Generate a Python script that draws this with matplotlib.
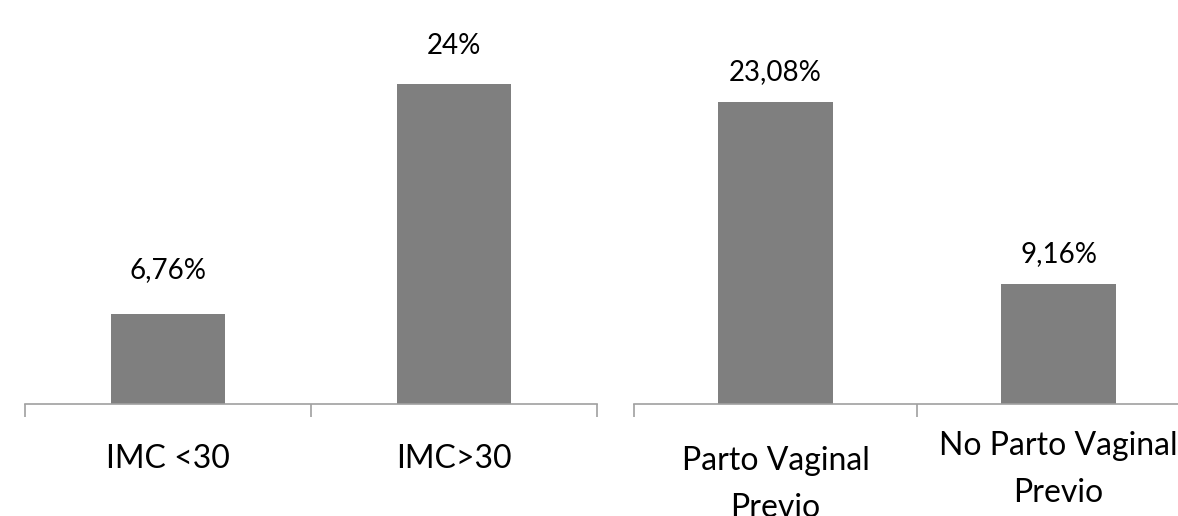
import matplotlib
matplotlib.use('Agg')
import matplotlib.pyplot as plt
import matplotlib.transforms as mtransforms

# left panel: BMI
imc_labels = ['IMC <30', 'IMC>30']
imc_values = [6.76, 24.0]
imc_text = ['6,76%', '24%']

# right panel: previous vaginal delivery
parto_labels = ['Parto Vaginal\nPrevio', 'No Parto Vaginal\nPrevio']
parto_values = [23.08, 9.16]
parto_text = ['23,08%', '9,16%']

plt.rcParams['font.family'] = ['Lato', 'DejaVu Sans']

BAR = '#7f7f7f'
AXIS = '#a0a0a0'
W, H = 1178, 516
DPI = 100


def px_axes(x0, x1, y_top, y_base):
    return [x0 / W, (H - y_base) / H, (x1 - x0) / W, (y_base - y_top) / H]


def draw_panel(ax, labels, values, texts, ymax, width, label_drop, value_gap):
    xs = list(range(len(values)))
    ax.bar(xs, values, width=width, color=BAR, zorder=2)
    ax.set_xlim(-0.5, len(values) - 0.5)
    ax.set_ylim(0, ymax)
    for s in ['top', 'right', 'left']:
        ax.spines[s].set_visible(False)
    ax.spines['bottom'].set_color(AXIS)
    ax.spines['bottom'].set_linewidth(1.2)
    ax.set_yticks([])
    ax.set_xticks([i - 0.5 for i in range(len(values) + 1)])
    ax.set_xticklabels([])
    ax.tick_params(axis='x', direction='out', length=9, width=1.2, color=AXIS)

    trans = mtransforms.blended_transform_factory(ax.transData, ax.transAxes)
    h_px = ax.get_position().height * H
    # label_drop: pixels from the axis line down to the last line's baseline
    for x, lab, d in zip(xs, labels, label_drop):
        ax.text(x, -d / h_px, lab, transform=trans, ha='center', va='baseline',
                fontsize=23, color='black', linespacing=1.72, clip_on=False)
    for x, v, t, g in zip(xs, values, texts, value_gap):
        ax.annotate(t, (x, v), xytext=(0, g * 72 / DPI), textcoords='offset points',
                    ha='center', va='baseline', fontsize=20, color='black')


fig = plt.figure(figsize=(W / DPI, H / DPI), dpi=DPI)
ax1 = fig.add_axes(px_axes(25, 597, 30, 404))
ax2 = fig.add_axes(px_axes(634, 1200, 30, 404))

draw_panel(ax1, imc_labels, imc_values, imc_text, 374 / 13.35, 0.4,
           [64, 64], [36, 30])
draw_panel(ax2, parto_labels, parto_values, parto_text, 374 / 13.1, 0.403,
           [113, 98], [22, 22])

fig.savefig('out.png', dpi=DPI)
